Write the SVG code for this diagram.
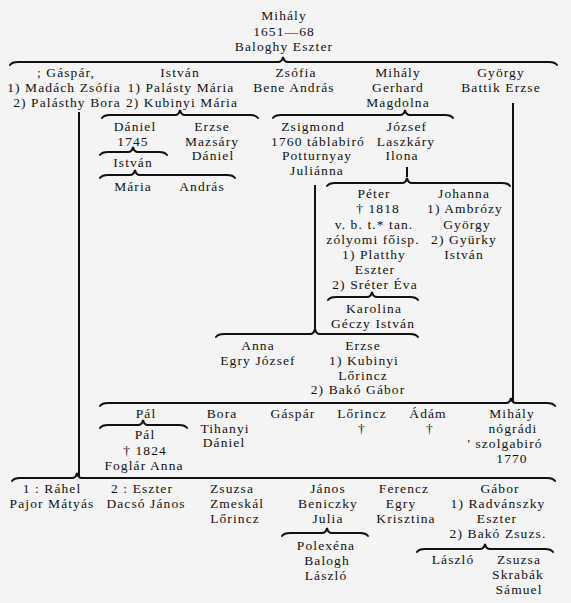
<svg xmlns="http://www.w3.org/2000/svg" width="571" height="603" viewBox="0 0 571 603">
<style>
text{font-family:"Liberation Serif","Times New Roman",serif;font-size:13.5px;fill:#111;text-anchor:middle;letter-spacing:1.1px}
.b{fill:none;stroke:#111;stroke-width:2;stroke-linecap:round}
.v{fill:none;stroke:#111;stroke-width:2}
</style>
<rect width="571" height="603" fill="#f4f4f4"/>
<g id="connectors">
<path class="b" d="M10,65 Q12,62 18,62 L278,62 Q282,62 283,57 Q284,62 288,62 L549,62 Q555,62 557,65"/>
<path class="v" d="M79,112 V476"/>
<path class="v" d="M513,103 V401"/>
<path class="b" d="M102,118 Q104,115 110,115 L175,115 Q179,115 180,110 Q181,115 185,115 L250,115 Q256,115 258,118"/>
<path class="b" d="M273,118 Q275,115 281,115 L400,115 Q404,115 405,110 Q406,115 410,115 L445,115 Q451,115 453,118"/>
<path class="b" d="M100,155 Q102,152 108,152 L128,152 Q132,152 133,147 Q134,152 138,152 L159,152 Q165,152 167,155"/>
<path class="b" d="M100,178 Q102,175 108,175 L130,175 Q134,175 135,170 Q136,175 140,175 L227,175 Q233,175 235,178"/>
<path class="v" d="M407,167 V177"/>
<path class="b" d="M327,186 Q329,183 335,183 L402,183 Q406,183 407,178 Q408,183 412,183 L502,183 Q508,183 510,186"/>
<path class="v" d="M315,185 V330"/>
<path class="b" d="M328,300 Q330,297 336,297 L367,297 Q371,297 372,292 Q373,297 377,297 L410,297 Q416,297 418,300"/>
<path class="b" d="M216,337 Q218,334 224,334 L310,334 Q314,334 315,329 Q316,334 320,334 L410,334 Q416,334 418,337"/>
<path class="b" d="M100,406 Q102,403 108,403 L506,403 Q510,403 511,398 Q512,403 516,403 L547,403 Q553,403 555,406"/>
<path class="b" d="M100,428 Q102,425 108,425 L138,425 Q142,425 143,420 Q144,425 148,425 L179,425 Q185,425 187,428"/>
<path class="b" d="M12,481 Q14,478 20,478 L72,478 Q76,478 77,473 Q78,478 82,478 L547,478 Q553,478 555,481"/>
<path class="b" d="M282,536 Q284,533 290,533 L322,533 Q326,533 327,528 Q328,533 332,533 L360,533 Q366,533 368,536"/>
<path class="b" d="M417,552 Q419,549 425,549 L480,549 Q484,549 485,544 Q486,549 490,549 L545,549 Q551,549 553,552"/>
</g>
<g id="mihaly-root"><text x="284" y="20">Mihály</text><text x="284" y="36">1651—68</text><text x="284" y="51">Baloghy Eszter</text></g>
<g id="gaspar"><text x="66" y="77">; Gáspár,</text><text x="64" y="92">1) Madách Zsófia</text><text x="67" y="107">2) Palásthy Bora</text></g>
<g id="istvan"><text x="180" y="77">István</text><text x="181" y="92">1) Palásty Mária</text><text x="182" y="107">2) Kubinyi Mária</text></g>
<g id="zsofia"><text x="296" y="77">Zsófia</text><text x="294" y="92">Bene András</text></g>
<g id="mihaly-gerhard"><text x="398" y="77">Mihály</text><text x="398" y="92">Gerhard</text><text x="398" y="107">Magdolna</text></g>
<g id="gyorgy"><text x="501" y="77">György</text><text x="501" y="92">Battik Erzse</text></g>
<g id="daniel"><text x="135" y="131">Dániel</text><text x="133" y="146">1745</text></g>
<g id="erzse-mazsary"><text x="212" y="131">Erzse</text><text x="212" y="146">Mazsáry</text><text x="213" y="160">Dániel</text></g>
<g id="istvan-2"><text x="133" y="167">István</text></g>
<g id="maria"><text x="133" y="191">Mária</text></g>
<g id="andras"><text x="202" y="191">András</text></g>
<g id="zsigmond"><text x="313" y="131">Zsigmond</text><text x="318" y="146">1760 táblabiró</text><text x="317" y="160">Potturnyay</text><text x="317" y="175">Juliánna</text></g>
<g id="jozsef"><text x="407" y="131">József</text><text x="406" y="146">Laszkáry</text><text x="402" y="160">Ilona</text></g>
<g id="peter"><text x="374" y="198">Péter</text><text x="378" y="213">† 1818</text><text x="374" y="229">v. b. t.* tan.</text><text x="373" y="244">zólyomi főisp.</text><text x="374" y="259">1) Platthy</text><text x="375" y="274">Eszter</text><text x="375" y="289">2) Sréter Éva</text></g>
<g id="johanna"><text x="464" y="198">Johanna</text><text x="465" y="213">1) Ambrózy</text><text x="467" y="229">György</text><text x="464" y="244">2) Gyürky</text><text x="464" y="259">István</text></g>
<g id="karolina"><text x="374" y="313">Karolina</text><text x="373" y="328">Géczy István</text></g>
<g id="anna"><text x="258" y="350">Anna</text><text x="258" y="365">Egry József</text></g>
<g id="erzse-kubinyi"><text x="363" y="350">Erzse</text><text x="364" y="365">1) Kubinyi</text><text x="363" y="380">Lőrincz</text><text x="358" y="394">2) Bakó Gábor</text></g>
<g id="pal"><text x="146" y="418">Pál</text></g>
<g id="bora"><text x="222" y="418">Bora</text><text x="225" y="433">Tihanyi</text><text x="224" y="447">Dániel</text></g>
<g id="gaspar-2"><text x="293" y="418">Gáspár</text></g>
<g id="lorincz"><text x="362" y="418">Lőrincz</text><text x="362" y="433">†</text></g>
<g id="adam"><text x="428" y="418">Ádám</text><text x="430" y="433">†</text></g>
<g id="mihaly-nogradi"><text x="512" y="418">Mihály</text><text x="513" y="433">nógrádi</text><text x="505" y="448">' szolgabiró</text><text x="512" y="463">1770</text></g>
<g id="pal-2"><text x="145" y="439">Pál</text><text x="145" y="455">† 1824</text><text x="144" y="470">Foglár Anna</text></g>
<g id="rahel"><text x="52" y="493">1 : Ráhel</text><text x="52" y="508">Pajor Mátyás</text></g>
<g id="eszter"><text x="142" y="493">2 : Eszter</text><text x="146" y="508">Dacsó János</text></g>
<g id="zsuzsa"><text x="232" y="493">Zsuzsa</text><text x="237" y="508">Zmeskál</text><text x="235" y="523">Lőrincz</text></g>
<g id="janos"><text x="328" y="493">János</text><text x="328" y="508">Beniczky</text><text x="328" y="523">Julia</text></g>
<g id="ferencz"><text x="404" y="493">Ferencz</text><text x="401" y="508">Egry</text><text x="406" y="523">Krisztina</text></g>
<g id="gabor"><text x="500" y="493">Gábor</text><text x="498" y="508">1) Radvánszky</text><text x="497" y="523">Eszter</text><text x="498" y="538">2) Bakó Zsuzs.</text></g>
<g id="polexena"><text x="326" y="550">Polexéna</text><text x="327" y="565">Balogh</text><text x="326" y="580">László</text></g>
<g id="laszlo"><text x="453" y="564">László</text></g>
<g id="zsuzsa-2"><text x="519" y="564">Zsuzsa</text><text x="518" y="579">Skrabák</text><text x="519" y="594">Sámuel</text></g>
</svg>
